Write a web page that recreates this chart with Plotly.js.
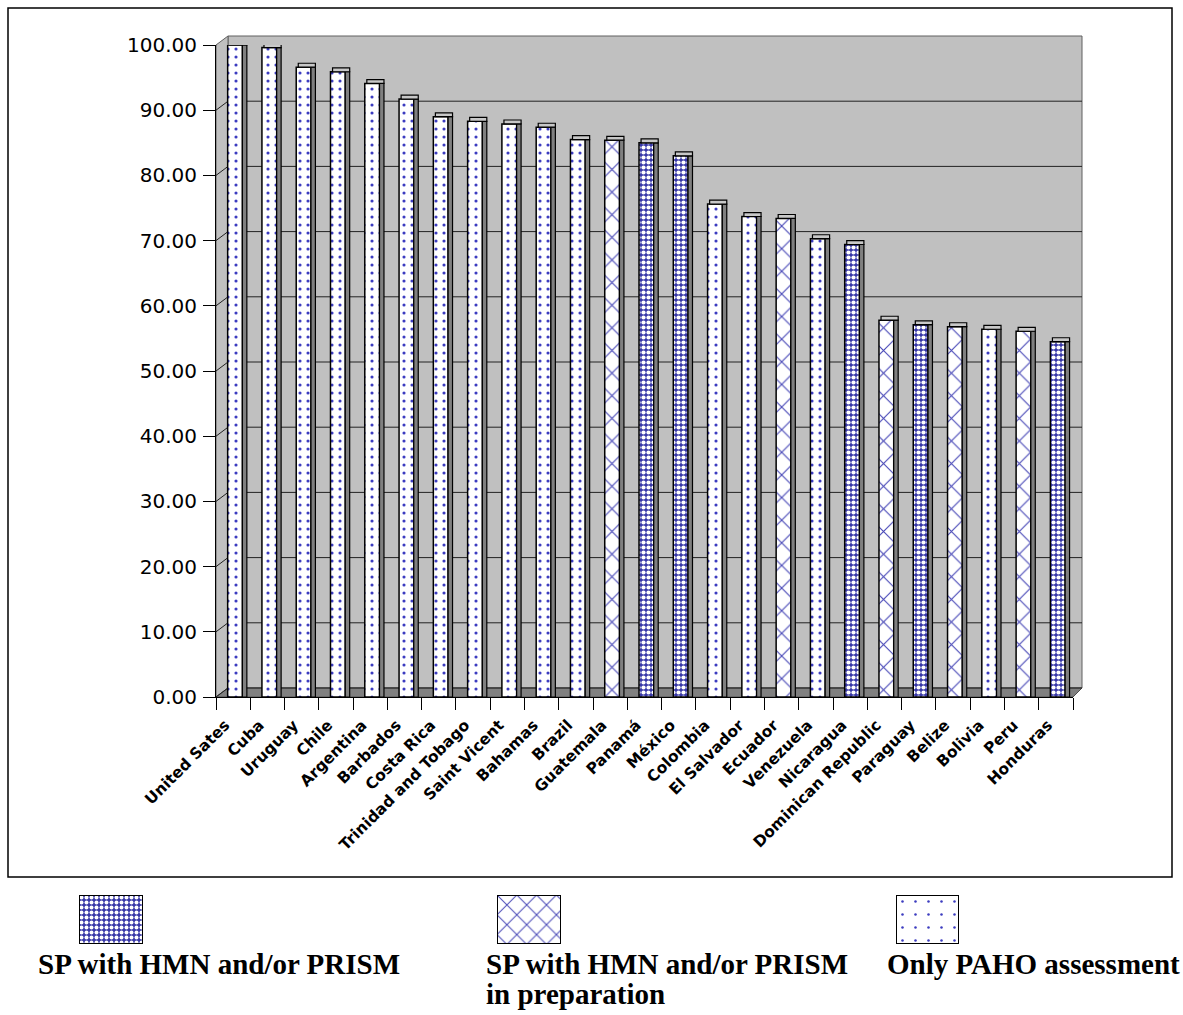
<!DOCTYPE html>
<html>
<head>
<meta charset="utf-8">
<script src="https://cdn.plot.ly/plotly-3.0.1.min.js"></script>
<style>html,body{margin:0;padding:0;background:#fff;}#chart{width:1183px;height:1015px;}</style>
</head>
<body>
<div id="chart"></div>
<script>
// ---------------- data ----------------
const categories = ["United Sates","Cuba","Uruguay","Chile","Argentina","Barbados","Costa Rica",
  "Trinidad and Tobago","Saint Vicent","Bahamas","Brazil","Guatemala","Panamá","México","Colombia",
  "El Salvador","Ecuador","Venezuela","Nicaragua","Dominican Republic","Paraguay","Belize","Bolivia","Peru","Honduras"];
const values = [100.0, 99.6, 96.6, 95.9, 94.1, 91.7, 89.0, 88.3, 87.9, 87.4, 85.5, 85.4, 85.0,
  83.0, 75.6, 73.7, 73.4, 70.3, 69.4, 57.8, 57.1, 56.8, 56.4, 56.1, 54.5];
const groups = ["PAHO","PAHO","PAHO","PAHO","PAHO","PAHO","PAHO","PAHO","PAHO","PAHO","PAHO",
  "PREP","HMN","HMN","PAHO","PAHO","PREP","PAHO","HMN","PREP","HMN","PREP","PAHO","PREP","HMN"];
const groupOrder = ["HMN","PREP","PAHO"];
const groupLabels = {HMN: ["SP with HMN and/or PRISM"], PREP: ["SP with HMN and/or PRISM","in preparation"], PAHO: ["Only PAHO assessment"]};
const yTicks = [0,10,20,30,40,50,60,70,80,90,100];

// ---------------- styles ----------------
const W = 1183, H = 1015;
const px = v => v / W;           // x pixel -> paper
const py = v => 1 - v / H;       // y pixel -> paper
const backShift = 1.38;          // 9px depth of the back wall, in axis units
const patternStyle = {
  HMN:  {shape: ".", fg: "#ffffff", bg: "#3838a8", size: 5, solidity: 0.55, swatchSize: 5, swatchSolidity: 0.5},
  PREP: {shape: "x", fg: "#4a4ab8", bg: "#ffffff", size: 16, solidity: 0.14, swatchSize: 14, swatchSolidity: 0.14},
  PAHO: {shape: ".", fg: "#3c3cc0", bg: "#ffffff", size: 8, solidity: 0.12, swatchSize: 13, swatchSolidity: 0.03}
};
const capDepth = values.map(() => 0.6);   // visual depth of the 3D cap (in axis units)

const pat = key => groups.map(g => patternStyle[g][key]);

const front = {
  type: "bar", x: categories, y: values, xaxis: "x", yaxis: "y",
  width: 0.43, offset: -0.16, hoverinfo: "skip", showlegend: false,
  marker: {
    color: "#ffffff",
    line: {color: "#000000", width: 1.5},
    pattern: {shape: pat("shape"), fgcolor: pat("fg"), bgcolor: pat("bg"), size: pat("size"), solidity: pat("solidity"), fillmode: "replace"}
  }
};
const side = {
  type: "bar", x: categories, y: values, xaxis: "x", yaxis: "y",
  width: 0.13, offset: 0.27, hoverinfo: "skip", showlegend: false,
  marker: {color: "#808080", line: {color: "#000000", width: 1.2}}
};
const cap = {
  type: "bar", x: categories, y: capDepth, base: values, xaxis: "x", yaxis: "y",
  width: 0.50, offset: -0.10, hoverinfo: "skip", showlegend: false,
  marker: {color: "#c8c8c8", line: {color: "#000000", width: 1.2}}
};

// legend swatches (one small subplot per group)
const swatchX = [[79,143],[497,561],[896,959]];
const swatchTraces = groupOrder.map((g, i) => ({
  type: "bar", x: [g], y: [1], width: 1, xaxis: "x" + (i + 2), yaxis: "y" + (i + 2),
  hoverinfo: "skip", showlegend: false,
  marker: {color: "#ffffff", line: {color: "#000000", width: 2},
    pattern: {shape: patternStyle[g].shape, fgcolor: patternStyle[g].fg, bgcolor: patternStyle[g].bg,
      size: patternStyle[g].swatchSize, solidity: patternStyle[g].swatchSolidity, fillmode: "replace"}}
}));

const hidden = {visible: false, fixedrange: true, automargin: false};
const layout = {
  width: W, height: H,
  margin: {l: 0, r: 0, t: 0, b: 0, pad: 0},
  paper_bgcolor: "#ffffff", plot_bgcolor: "rgba(0,0,0,0)",
  barmode: "overlay", showlegend: false,
  font: {family: "DejaVu Sans", color: "#000000"},
  xaxis: {domain: [px(216), px(1073)], anchor: "y", type: "category", categoryorder: "array",
    categoryarray: categories, range: [-0.5, categories.length - 0.5], tickson: "boundaries",
    ticks: "outside", ticklen: 12, tickwidth: 1, tickcolor: "#000000", showline: true,
    linecolor: "#000000", linewidth: 1, showgrid: false, zeroline: false, tickangle: -45,
    ticklabelshift: -8, ticklabelstandoff: 12,
    tickfont: {family: "DejaVu Sans", weight: "bold", size: 15.5, color: "#000000"},
    automargin: false, fixedrange: true},
  yaxis: {domain: [py(697), py(45)], anchor: "x", range: [0, 100], tickvals: yTicks,
    tickformat: ".2f", ticks: "outside", ticklen: 12, tickwidth: 1, tickcolor: "#000000",
    showline: true, linecolor: "#000000", linewidth: 1, showgrid: false, zeroline: false,
    tickfont: {family: "DejaVu Sans", size: 20, color: "#000000"}, ticklabelstandoff: 2,
    automargin: false, fixedrange: true},
  annotations: [],
  shapes: []
};
// swatch axes
swatchX.forEach((sx, i) => {
  layout["xaxis" + (i + 2)] = Object.assign({}, hidden, {domain: [px(sx[0]), px(sx[1])], anchor: "y" + (i + 2), range: [-0.5, 0.5], type: "category"});
  layout["yaxis" + (i + 2)] = Object.assign({}, hidden, {domain: [py(944), py(895)], anchor: "x" + (i + 2), range: [0, 1]});
});

// 3D walls
layout.shapes.push(
  {type: "rect", xref: "paper", yref: "paper", x0: px(228), x1: px(1082), y0: py(688), y1: py(36),
   fillcolor: "#c0c0c0", line: {color: "#606060", width: 1}, layer: "below"},
  {type: "path", xref: "paper", yref: "paper", layer: "below", fillcolor: "#c0c0c0", line: {color: "#606060", width: 1},
   path: `M ${px(216)},${py(45)} L ${px(228)},${py(36)} L ${px(228)},${py(688)} L ${px(216)},${py(697)} Z`},
  {type: "path", xref: "paper", yref: "paper", layer: "below", fillcolor: "#808080", line: {color: "#505050", width: 1},
   path: `M ${px(216)},${py(697)} L ${px(228)},${py(688)} L ${px(1082)},${py(688)} L ${px(1073)},${py(697)} Z`},
  {type: "rect", xref: "paper", yref: "paper", x0: px(8), x1: px(1172), y0: py(877), y1: py(8),
   fillcolor: "rgba(0,0,0,0)", line: {color: "#000000", width: 1.5}, layer: "below"}
);
// gridlines on the side wall and the back wall
yTicks.forEach(t => {
  layout.shapes.push({type: "path", xref: "paper", yref: "y", layer: "below", line: {color: "#222222", width: 1},
    path: `M ${px(216)},${t} L ${px(228)},${t + backShift} L ${px(1082)},${t + backShift}`});
});

// legend texts
const legFont = {family: "Liberation Serif", weight: "bold", size: 29, color: "#000000"};
const legLeft = [36, 484, 885];
groupOrder.forEach((g, i) => {
  groupLabels[g].forEach((line, j) => {
    layout.annotations.push({xref: "paper", yref: "paper", x: px(legLeft[i]), y: py(964 + j * 30),
      xanchor: "left", yanchor: "middle", text: line, showarrow: false, font: legFont, align: "left"});
  });
});

Plotly.newPlot("chart", [front, side, cap].concat(swatchTraces), layout, {displayModeBar: false, staticPlot: true});
</script>
</body>
</html>
